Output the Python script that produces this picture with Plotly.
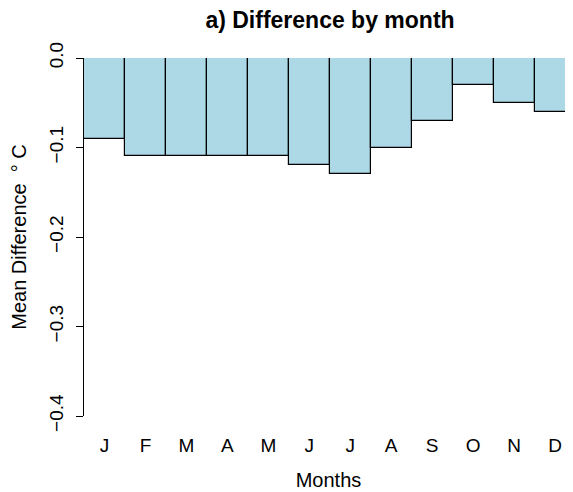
import plotly.graph_objects as go

months = ["J", "F", "M", "A", "M", "J", "J", "A", "S", "O", "N", "D"]
values = [-0.09, -0.11, -0.11, -0.11, -0.11, -0.12, -0.13, -0.10, -0.07, -0.03, -0.05, -0.06]
yticks = [0.0, -0.1, -0.2, -0.3, -0.4]
ytick_text = ["0.0", "\u22120.1", "\u22120.2", "\u22120.3", "\u22120.4"]

x = list(range(len(months)))

# page body has an 8px margin, so the figure is 8px smaller and offsets are shifted
W, H = 565, 484
L, T, B = 76, 50, 76

fig = go.Figure(go.Bar(
    x=x, y=values, width=1,
    marker=dict(color="#ADD8E6", line=dict(color="black", width=1.2)),
))

fig.update_layout(
    width=W, height=H,
    margin=dict(l=L, r=0, t=T, b=B, autoexpand=False),
    paper_bgcolor="white", plot_bgcolor="white",
    font=dict(family="Liberation Sans, Arial, sans-serif", color="black", size=19),
    showlegend=False,
    title=dict(text="<b>a) Difference by month</b>", x=(322) / W, xanchor="center",
               y=1 - 12 / H, yanchor="middle", font=dict(size=23)),
    bargap=0,
)
fig.update_xaxes(
    range=[-0.5, -0.5 + (W - L) / 40.96], automargin=False,
    tickvals=x, ticktext=months, showline=False, showgrid=False, zeroline=False,
    ticks="outside", tickcolor="rgba(0,0,0,0)", ticklen=12,
    title=dict(text="Months", standoff=18, font=dict(size=20)),
)
fig.update_yaxes(
    range=[-0.4, 0], automargin=False, tickvals=yticks, ticktext=ytick_text, tickangle=-90,
    showline=True, linecolor="black", linewidth=1, showgrid=False, zeroline=False,
    ticks="outside", ticklen=7, tickcolor="black", ticklabelstandoff=5,
    title=dict(text="Mean Difference  \u00b0 C", standoff=14, font=dict(size=20)),
)

fig.write_html("out.html")
